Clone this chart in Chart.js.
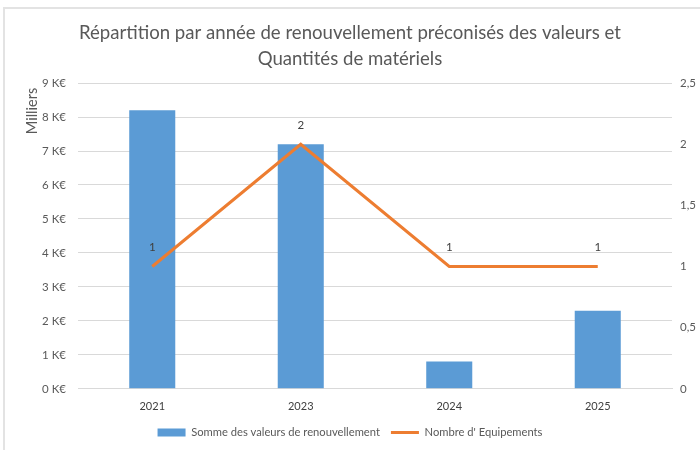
<!DOCTYPE html>
<html>
<head>
<meta charset="utf-8">
<script src="https://cdn.jsdelivr.net/npm/chart.js@4"></script>
<style>
  html, body { margin: 0; padding: 0; background: #fff; }
  canvas { display: block; }
</style>
</head>
<body>
<canvas id="chart" width="700" height="450"></canvas>
<script>
// Chart data
const years = ['2021', '2023', '2024', '2025'];
const renewalValues = [8200, 7200, 800, 2300];   // euros
const equipmentCounts = [1, 2, 1, 1];

const FONT = 'Lato, "Open Sans", sans-serif';
const GREY = '#595959';
const BLUE = '#5B9BD5';
const ORANGE = '#ED7D31';

// frame, "Milliers" title and the point labels on the line
const extrasPlugin = {
    id: 'extras',
    beforeDraw(chart) {
        const ctx = chart.ctx;
        ctx.save();
        ctx.strokeStyle = '#e3e3e3';
        ctx.lineWidth = 2;
        ctx.beginPath();
        ctx.moveTo(4, 450);
        ctx.lineTo(4, 8);
        ctx.lineTo(700, 8);
        ctx.stroke();
        ctx.restore();
    },
    afterDatasetsDraw(chart) {
        const ctx = chart.ctx;
        const meta = chart.getDatasetMeta(1);
        ctx.save();
        ctx.font = '11.5px ' + FONT;
        ctx.fillStyle = '#404040';
        ctx.textAlign = 'center';
        ctx.textBaseline = 'middle';
        meta.data.forEach((pt, i) => {
            ctx.fillText(String(equipmentCounts[i]), pt.x, pt.y - 19);
        });
        ctx.restore();
    },
    afterDraw(chart) {
        const ctx = chart.ctx;
        ctx.save();
        ctx.translate(32, 111);
        ctx.rotate(-Math.PI / 2);
        ctx.font = '14.5px ' + FONT;
        ctx.fillStyle = GREY;
        ctx.textAlign = 'center';
        ctx.textBaseline = 'middle';
        ctx.fillText('Milliers', 0, 0);
        ctx.restore();
    }
};

new Chart(document.getElementById('chart'), {
    data: {
        labels: years,
        datasets: [{
            type: 'bar',
            label: 'Somme des valeurs de renouvellement',
            data: renewalValues,
            backgroundColor: BLUE,
            borderWidth: 0,
            categoryPercentage: 1,
            barPercentage: 0.31,
            yAxisID: 'y',
            pointStyle: 'rect',
            order: 2
        }, {
            type: 'line',
            label: "Nombre d' Equipements",
            data: equipmentCounts,
            borderColor: ORANGE,
            backgroundColor: ORANGE,
            borderWidth: 3,
            pointRadius: 0,
            tension: 0,
            yAxisID: 'y1',
            pointStyle: 'line',
            order: 1
        }]
    },
    options: {
        responsive: false,
        animation: false,
        layout: { padding: { left: 0, right: 0, top: 0, bottom: 2 } },
        plugins: {
            title: {
                display: true,
                text: ['Répartition par année de renouvellement préconisés des valeurs et', 'Quantités de matériels'],
                color: GREY,
                font: { family: FONT, size: 18.6, weight: 'normal', lineHeight: 1.4 },
                padding: { top: 20, bottom: 11 }
            },
            legend: {
                position: 'bottom',
                labels: {
                    usePointStyle: true,
                    pointStyleWidth: 28,
                    boxHeight: 8,
                    padding: 11,
                    color: GREY,
                    font: { family: FONT, size: 11.2 },
                    sort: (a, b) => a.datasetIndex - b.datasetIndex
                }
            },
            tooltip: { enabled: false }
        },
        scales: {
            x: {
                grid: { display: false, drawTicks: false },
                border: { color: '#d9d9d9' },
                ticks: { color: '#404040', font: { family: FONT, size: 11 }, padding: 11 },
                afterFit(scale) { scale.height = 27; }
            },
            y: {
                min: 0,
                max: 9000,
                ticks: {
                    stepSize: 1000,
                    color: GREY,
                    padding: 12,
                    font: { family: FONT, size: 11.5 },
                    callback: v => (v / 1000) + ' K€'
                },
                grid: { color: '#d9d9d9', drawTicks: false },
                border: { display: false },
                afterFit(scale) { scale.width = 78; }
            },
            y1: {
                position: 'right',
                min: 0,
                max: 2.5,
                ticks: {
                    stepSize: 0.5,
                    color: GREY,
                    padding: 8,
                    font: { family: FONT, size: 11.5 },
                    callback: v => String(v).replace('.', ',')
                },
                grid: { display: false, drawTicks: false },
                border: { display: false },
                afterFit(scale) { scale.width = 28; }
            }
        }
    },
    plugins: [extrasPlugin]
});
</script>
</body>
</html>
